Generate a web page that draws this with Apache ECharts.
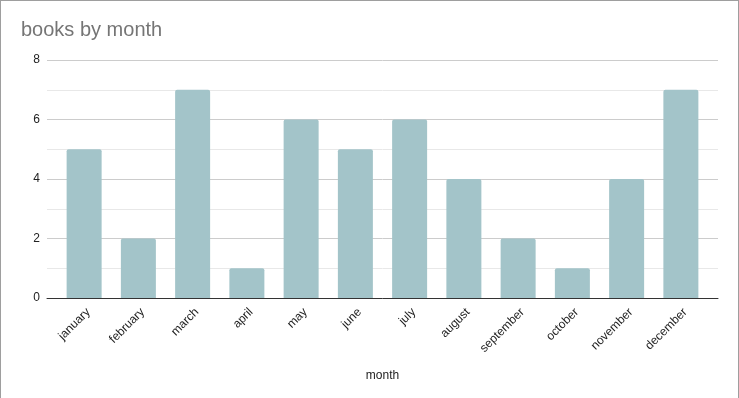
<!DOCTYPE html>
<html>
<head>
<meta charset="utf-8">
<script src="https://cdn.jsdelivr.net/npm/echarts@6/dist/echarts.min.js"></script>
<style>
  body { margin: 0; background: #fff; }
  #main { width: 739px; height: 398px; position: absolute; left: 0; top: 0; }
  #frame { position: absolute; left: 0; top: 0; width: 737px; height: 410px; border: 1px solid #9e9e9e; pointer-events: none; }
</style>
</head>
<body>
<div id="main"></div>
<div id="frame"></div>
<script>
// data
var months = ['january', 'february', 'march', 'april', 'may', 'june', 'july',
    'august', 'september', 'october', 'november', 'december'];
var books = [5, 2, 7, 1, 6, 5, 6, 4, 2, 1, 4, 7];

var chart = echarts.init(document.getElementById('main'));
chart.setOption({
    animation: false,
    title: {
        text: 'books by month',
        left: 16,
        top: 15,
        textStyle: {
            fontFamily: 'Liberation Sans, Arial, sans-serif',
            fontSize: 20,
            fontWeight: 'normal',
            color: '#757575'
        }
    },
    // grid 0: gridlines + zero line (wider), grid 1: bars
    grid: [
        { left: 47, right: 21, top: 60, bottom: 100, containLabel: false, outerBoundsMode: 'none' },
        { left: 57, right: 31, top: 60, bottom: 100, containLabel: false, outerBoundsMode: 'none' }
    ],
    xAxis: [{
        gridIndex: 0,
        type: 'value',
        min: 0,
        max: 1,
        axisLine: { show: true, onZero: false, lineStyle: { color: '#333', width: 1 } },
        axisTick: { show: false },
        axisLabel: { show: false },
        splitLine: { show: false }
    }, {
        gridIndex: 1,
        type: 'category',
        data: months,
        name: 'month',
        nameLocation: 'middle',
        nameGap: 72,
        nameTextStyle: { fontFamily: 'Liberation Sans, Arial, sans-serif', fontSize: 12, color: '#222' },
        axisLine: { show: false },
        axisTick: { show: false },
        axisLabel: {
            rotate: 45,
            margin: 8,
            interval: 0,
            verticalAlign: 'top',
            fontFamily: 'Liberation Sans, Arial, sans-serif',
            fontSize: 12,
            color: '#222'
        }
    }],
    yAxis: [{
        gridIndex: 0,
        type: 'value',
        min: 0,
        max: 8,
        interval: 2,
        axisLine: { show: false },
        axisTick: { show: false },
        axisLabel: {
            margin: 7,
            fontFamily: 'Liberation Sans, Arial, sans-serif',
            fontSize: 12,
            color: '#222'
        },
        splitLine: { lineStyle: { color: '#cccccc' } },
        minorTick: { show: false, splitNumber: 2 },
        minorSplitLine: { show: true, lineStyle: { color: '#e8e8e8' } }
    }, {
        gridIndex: 1,
        type: 'value',
        min: 0,
        max: 8,
        show: false
    }],
    series: [{
        type: 'bar',
        xAxisIndex: 1,
        yAxisIndex: 1,
        data: books,
        barWidth: 35,
        itemStyle: { color: '#a3c4c9', borderRadius: [2, 2, 0, 0] }
    }]
});
</script>
</body>
</html>
